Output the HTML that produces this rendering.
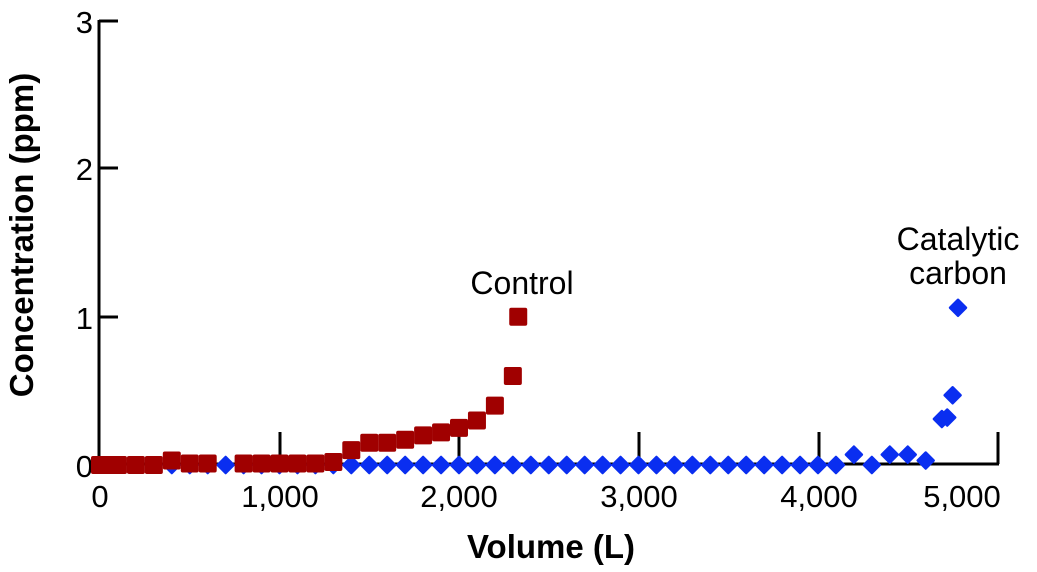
<!DOCTYPE html>
<html><head><style>body{margin:0;background:#fff}svg{display:block;font-family:"Liberation Sans",Arial,sans-serif}</style></head>
<body>
<svg width="1037" height="572" viewBox="0 0 1037 572" xmlns="http://www.w3.org/2000/svg">
<g stroke="#000" stroke-width="3" fill="none">
<line x1="99" y1="20" x2="99" y2="465"/>
<line x1="99" y1="464" x2="999" y2="464"/>
<line x1="99" y1="21" x2="118" y2="21"/>
<line x1="99" y1="168" x2="118" y2="168"/>
<line x1="99" y1="317" x2="118" y2="317"/>
<line x1="280" y1="432" x2="280" y2="464"/>
<line x1="459" y1="432" x2="459" y2="464"/>
<line x1="639" y1="432" x2="639" y2="464"/>
<line x1="819" y1="432" x2="819" y2="464"/>
<line x1="998" y1="432" x2="998" y2="464"/>
</g>
<g font-size="31" fill="#000" text-anchor="end">
<text x="93" y="33">3</text><text x="93" y="180">2</text><text x="93" y="329">1</text><text x="93" y="477">0</text>
</g>
<g font-size="31" fill="#000" text-anchor="middle">
<text x="100" y="507">0</text><text x="280" y="507">1,000</text><text x="459" y="507">2,000</text><text x="639" y="507">3,000</text><text x="819" y="507">4,000</text><text x="962" y="507">5,000</text>
<text x="522" y="294" font-size="32">Control</text>
<text x="958" y="250" font-size="32">Catalytic</text><text x="958" y="284" font-size="32">carbon</text>
<text x="551" y="558" font-weight="bold" font-size="33">Volume (L)</text>
<text transform="translate(33,235) rotate(-90)" font-weight="bold" font-size="33">Concentration (ppm)</text>
</g>
<g id="pts"></g>
<script>
var g=document.getElementById('pts'),ns='http://www.w3.org/2000/svg';
function X(v){return 100+v*0.1795}function Y(c){return 465-c*148.3}
var blue=[];for(var v=400;v<=4100;v+=100)blue.push([v,0]);
blue=blue.concat([[4200,0.07],[4300,0],[4400,0.07],[4500,0.07],[4600,0.03],[4690,0.31],[4720,0.32],[4750,0.47],[4780,1.06]]);
var red=[[0,0],[50,0],[100,0],[200,0],[300,0],[400,0.03],[500,0.01],[600,0.01],[800,0.01],[900,0.01],[1000,0.01],[1100,0.01],[1200,0.01],[1300,0.02],[1400,0.1],[1500,0.15],[1600,0.15],[1700,0.17],[1800,0.2],[1900,0.22],[2000,0.25],[2100,0.3],[2200,0.4],[2300,0.6],[2330,1.0]];
blue.forEach(function(p){var e=document.createElementNS(ns,'path');var x=X(p[0]),y=Y(p[1]);e.setAttribute('d','M'+x+' '+(y-8)+'L'+(x+8)+' '+y+'L'+x+' '+(y+8)+'L'+(x-8)+' '+y+'Z');e.setAttribute('fill','#0a2ef0');e.setAttribute('stroke','#0a2ef0');e.setAttribute('stroke-width','2.5');e.setAttribute('stroke-linejoin','round');g.appendChild(e);});
red.forEach(function(p){var e=document.createElementNS(ns,'rect');var x=X(p[0]),y=Y(p[1]);e.setAttribute('x',x-9);e.setAttribute('y',y-9);e.setAttribute('width',18);e.setAttribute('height',18);e.setAttribute('rx',2);e.setAttribute('fill','#a00000');g.appendChild(e);});
</script>
</svg>
</body></html>
